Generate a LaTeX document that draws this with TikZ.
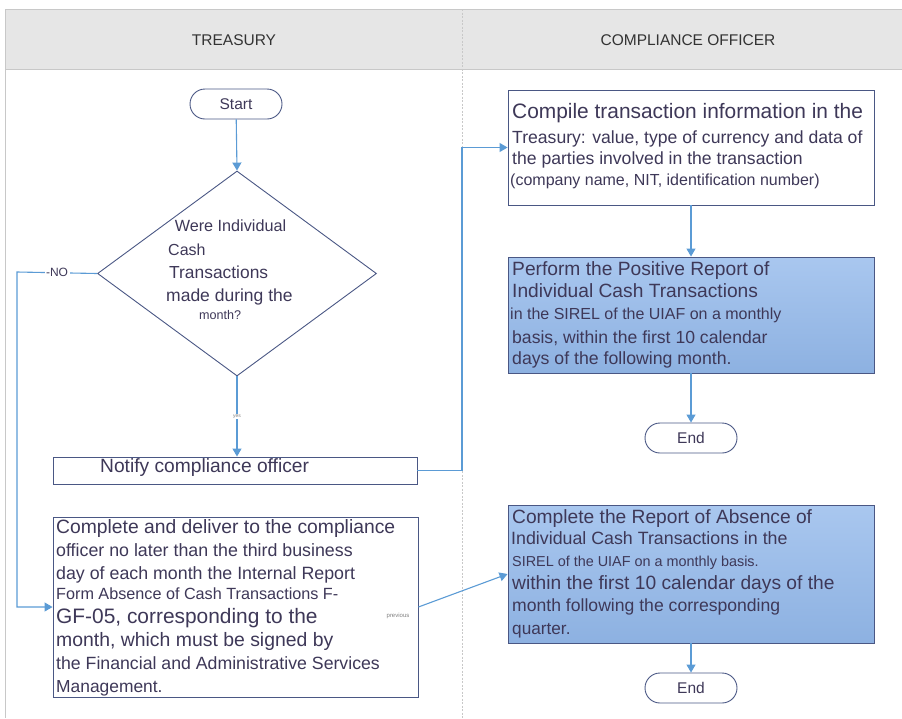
\documentclass[tikz,border=0pt]{standalone}
\usepackage{fontspec}
\setmainfont{Liberation Sans}
\usetikzlibrary{shapes.geometric,arrows.meta}
\definecolor{lanefill}{HTML}{E6E6E6}
\definecolor{laneline}{HTML}{C8C8C8}
\definecolor{conn}{HTML}{5B9BD5}
\definecolor{boxline}{HTML}{4A5784}
\definecolor{txt}{HTML}{3E3858}
\definecolor{hdrtxt}{HTML}{333333}
\definecolor{bluetop}{HTML}{A9C7EF}
\definecolor{bluebot}{HTML}{8DB1E1}
\newcommand{\fsz}[1]{\fontsize{#1}{#1}\selectfont}
\begin{document}
\begin{tikzpicture}[x=1pt,y=-1pt,
  boxw/.style={draw=boxline, line width=0.9pt, fill=white, inner sep=0pt},
  boxb/.style={draw=boxline, line width=0.9pt, top color=bluetop, bottom color=bluebot, inner sep=0pt},
  term/.style={draw=boxline, line width=0.9pt, rounded corners=15pt, minimum width=92pt, minimum height=30pt, inner sep=0pt, text=txt, font=\fsz{15.5}},
  conn/.style={draw=conn, line width=1.1pt},
  arr/.style={conn, -{Triangle[length=8pt,width=9pt]}},
  ln/.style={anchor=base west, inner sep=0pt, text=txt},
  hdr/.style={text=hdrtxt, font=\fsz{15.5}, inner sep=0pt}
]
\useasboundingbox (0,0) rectangle (902,718);
% lanes
\fill[lanefill] (5,9) rectangle (902,69);
\draw[laneline, line width=0.8pt] (5,9) -- (902,9);
\draw[laneline, line width=0.8pt] (5,69) -- (902,69);
\draw[laneline, line width=0.8pt] (5,9) -- (5,718);
\draw[laneline, line width=0.7pt, dashed, dash pattern=on 2pt off 1.5pt] (462,9) -- (462,718);
\node[hdr] (h1) at (234,40) {TREASURY};
\node[hdr] (h2) at (688,40) {COMPLIANCE OFFICER};

% nodes
\node[term] (start) at (236,104) {Start};
\node[diamond, draw=boxline, line width=0.9pt, minimum width=279pt, minimum height=205pt, inner sep=0pt] (dia) at (237,273.5) {};
\node[ln, anchor=base, font=\fsz{16.2}] (d1) at (230.5,231) {Were Individual};
\node[ln, font=\fsz{16}] (d2) at (168,255) {Cash};
\node[ln, font=\fsz{17.4}] (d3) at (169,278) {Transactions};
\node[ln, font=\fsz{17.5}] (d4) at (166,301) {made during the};
\node[ln, font=\fsz{12.6}] (d5) at (199,319) {month?};

\node[boxw, minimum width=364pt, minimum height=27pt] (notify) at (235,470.5) {};
\node[ln, font=\fsz{19.2}] (n1) at (100,472) {Notify compliance officer};

\node[boxw, minimum width=365pt, minimum height=180pt] (detail) at (235.5,607) {};
\node[ln, font=\fsz{19.3}] (a1) at (56,533) {Complete and deliver to the compliance};
\node[ln, font=\fsz{17.8}] (a2) at (56,556) {officer no later than the third business};
\node[ln, font=\fsz{17.8}] (a3) at (56,579) {day of each month the Internal Report};
\node[ln, font=\fsz{16.2}] (a4) at (56,599) {Form Absence of Cash Transactions F-};
\node[ln, font=\fsz{20.9}] (a5) at (56,623) {GF-05, corresponding to the};
\node[ln, font=\fsz{19.4}] (a6) at (56,646) {month, which must be signed by};
\node[ln, font=\fsz{17.7}] (a7) at (56,669) {the Financial and Administrative Services};
\node[ln, font=\fsz{17.4}] (a8) at (56,692) {Management.};
\node[inner sep=0pt, text=gray, font=\fsz{6}] (prev) at (398,616) {previous};

\node[boxw, minimum width=366pt, minimum height=115pt] (compile) at (691,147.5) {};
\node[ln, font=\fsz{20.9}] (c1) at (512,118) {Compile transaction information in the};
\node[ln, font=\fsz{17.6}] (c2) at (512,143) {Treasury: value, type of currency and data of};
\node[ln, font=\fsz{17.6}] (c3) at (512,164) {the parties involved in the transaction};
\node[ln, font=\fsz{16}] (c4) at (510,185) {(company name, NIT, identification number)};

\node[boxb, minimum width=366pt, minimum height=116pt] (perform) at (691,315) {};
\node[ln, font=\fsz{19.2}] (p1) at (512,275) {Perform the Positive Report of};
\node[ln, font=\fsz{19.2}] (p2) at (512,297) {Individual Cash Transactions};
\node[ln, font=\fsz{16}] (p3) at (510,319) {in the SIREL of the UIAF on a monthly};
\node[ln, font=\fsz{17.6}] (p4) at (512,343) {basis, within the first 10 calendar};
\node[ln, font=\fsz{17.7}] (p5) at (512,364) {days of the following month.};

\node[term] (end1) at (691,438) {End};

\node[boxb, minimum width=366pt, minimum height=138pt] (absence) at (691,574) {};
\node[ln, font=\fsz{19.2}] (b1) at (512,523) {Complete the Report of Absence of};
\node[ln, font=\fsz{17.8}] (b2) at (511,544) {Individual Cash Transactions in the};
\node[ln, font=\fsz{14.4}] (b3) at (512,566) {SIREL of the UIAF on a monthly basis.};
\node[ln, font=\fsz{19.2}] (b4) at (512,589) {within the first 10 calendar days of the};
\node[ln, font=\fsz{17.6}] (b5) at (512,611) {month following the corresponding};
\node[ln, font=\fsz{17.2}] (b6) at (512,634) {quarter.};

\node[term] (end2) at (691,688) {End};

% connectors
\draw[arr] (start) -- (dia.north);
\draw[arr] (dia.south) -- node[fill=white, inner sep=1pt, text=gray, font=\fsz{5}] (yes) {yes} (dia.south |- notify.north);
\coordinate (nocorner) at (17,272);
\draw[arr] (dia.west) -- node[pos=0.5, fill=white, inner sep=1.5pt, text=txt, font=\fsz{12}] (no) {-NO} (nocorner) |- (detail.west);
\coordinate (ncorner) at (462,470.5);
\draw[arr] (notify.east) -- (ncorner) |- (compile.west);
\draw[arr] (detail.east) -- (absence.west);
\draw[arr] (compile) -- (perform);
\draw[arr] (perform) -- (end1);
\draw[arr] (absence) -- (end2);
\end{tikzpicture}
\end{document}
